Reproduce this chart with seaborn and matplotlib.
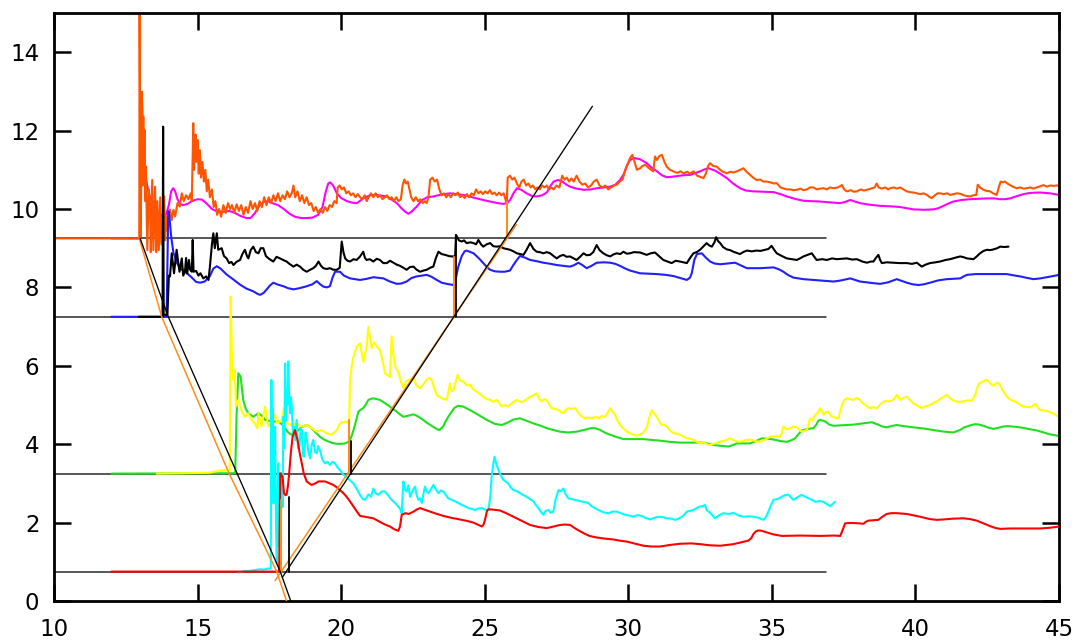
import numpy as np
import matplotlib
matplotlib.use("Agg")
import matplotlib.pyplot as plt
import seaborn as sns

# ---- measured traces: (x, y) pairs ----
orange_pts = [
    (9.8, 9.25), (12.97, 9.25), (12.98, 15.5), (13.02, 9.3), (13.065, 12.99), (13.09, 10.6), (13.11, 12.36),
    (13.13, 10.9), (13.15, 12.02), (13.18, 10.2), (13.2, 11.08), (13.25, 8.95), (13.3, 10.5), (13.34, 10.23),
    (13.37, 8.9), (13.42, 10.74), (13.46, 8.95), (13.52, 10.57), (13.56, 8.9), (13.6, 10.2), (13.65, 8.95),
    (13.7, 10.3), (13.74, 9.1), (13.78, 9.6), (13.84, 10.32), (13.87, 9.2), (13.9, 9.81), (13.94, 9.45),
    (13.98, 9.81), (14.04, 9.98), (14.1, 9.72), (14.16, 9.98), (14.22, 9.81), (14.3, 10.15), (14.38, 10.06),
    (14.45, 10.4), (14.52, 10.2), (14.6, 10.35), (14.68, 10.25), (14.76, 10.4), (14.8, 10.2), (14.85, 12.19),
    (14.88, 11.0), (14.93, 11.9), (14.96, 11.2), (15.0, 11.76), (15.04, 10.9), (15.08, 11.5), (15.12, 10.8),
    (15.17, 11.2), (15.22, 10.7), (15.27, 11.0), (15.32, 10.45), (15.37, 10.75), (15.43, 10.3), (15.5, 10.5),
    (15.56, 10.05), (15.62, 10.2), (15.68, 9.85), (15.75, 10.0), (15.82, 9.8), (15.9, 10.1), (15.98, 9.9),
    (16.06, 10.15), (16.13, 10.0), (16.2, 10.1), (16.28, 9.9), (16.36, 10.12), (16.44, 9.95), (16.52, 10.1),
    (16.6, 9.85), (16.68, 10.05), (16.76, 9.9), (16.84, 10.2), (16.92, 10.0), (17.0, 10.15), (17.08, 9.95),
    (17.16, 10.2), (17.24, 10.05), (17.32, 10.3), (17.4, 10.1), (17.48, 10.3), (17.56, 10.15), (17.64, 10.35),
    (17.72, 10.2), (17.8, 10.4), (17.88, 10.2), (17.96, 10.35), (18.04, 10.25), (18.12, 10.45), (18.2, 10.3),
    (18.28, 10.4), (18.34, 10.6), (18.4, 10.3), (18.48, 10.45), (18.56, 10.2), (18.64, 10.35), (18.72, 10.15),
    (18.8, 10.3), (18.88, 10.1), (18.96, 10.15), (19.04, 9.95), (19.12, 10.05), (19.2, 9.9), (19.28, 10.0),
    (19.36, 9.9), (19.44, 10.05), (19.52, 9.95), (19.6, 10.1), (19.68, 10.05), (19.76, 10.2), (19.84, 10.15),
    (19.88, 10.55), (19.95, 10.6), (20.02, 10.5), (20.1, 10.55), (20.18, 10.4), (20.26, 10.45), (20.34, 10.35),
    (20.42, 10.4), (20.5, 10.3), (20.58, 10.38), (20.66, 10.3), (20.74, 10.25), (20.82, 10.35), (20.89, 10.2),
    (20.96, 10.3), (21.04, 10.4), (21.12, 10.3), (21.2, 10.4), (21.28, 10.3), (21.36, 10.35), (21.44, 10.25),
    (21.52, 10.3), (21.6, 10.35), (21.68, 10.25), (21.76, 10.3), (21.84, 10.2), (21.92, 10.3), (22.0, 10.2),
    (22.08, 10.25), (22.14, 10.6), (22.2, 10.75), (22.26, 10.65), (22.32, 10.7), (22.38, 10.5), (22.44, 10.3),
    (22.52, 10.2), (22.6, 10.3), (22.68, 10.2), (22.76, 10.25), (22.84, 10.15), (22.92, 10.2), (22.98, 10.15),
    (23.04, 10.3), (23.1, 10.75), (23.18, 10.8), (23.26, 10.7), (23.34, 10.75), (23.42, 10.5), (23.5, 10.35),
    (23.58, 10.4), (23.66, 10.3), (23.74, 10.38), (23.82, 10.3), (23.9, 10.4), (23.98, 10.35), (24.06, 10.42),
    (24.14, 10.3), (24.22, 10.35), (24.3, 10.28), (24.38, 10.38), (24.46, 10.3), (24.54, 10.4), (24.62, 10.35),
    (24.7, 10.5), (24.78, 10.4), (24.86, 10.45), (24.94, 10.38), (25.02, 10.45), (25.1, 10.4), (25.18, 10.48),
    (25.26, 10.38), (25.34, 10.42), (25.42, 10.35), (25.5, 10.42), (25.58, 10.35), (25.66, 10.4), (25.74, 10.2),
    (25.77, 10.19), (25.8, 10.8), (25.88, 10.85), (25.96, 10.75), (26.04, 10.8), (26.12, 10.65), (26.2, 10.55),
    (26.28, 10.7), (26.36, 10.75), (26.44, 10.6), (26.52, 10.65), (26.6, 10.55), (26.68, 10.6), (26.76, 10.5),
    (26.84, 10.55), (26.92, 10.5), (27.0, 10.6), (27.08, 10.55), (27.16, 10.6), (27.24, 10.5), (27.32, 10.55),
    (27.4, 10.5), (27.5, 10.6), (27.6, 10.55), (27.7, 10.85), (27.78, 10.75), (27.86, 10.8), (27.94, 10.7),
    (28.02, 10.78), (28.1, 10.7), (28.2, 10.85), (28.3, 10.7), (28.4, 10.62), (28.5, 10.65), (28.6, 10.55),
    (28.7, 10.6), (28.8, 10.7), (28.9, 10.75), (29.0, 10.6), (29.1, 10.55), (29.2, 10.6), (29.3, 10.5),
    (29.4, 10.55), (29.5, 10.6), (29.6, 10.62), (29.7, 10.7), (29.8, 10.75), (29.9, 11.0), (29.98, 11.15),
    (30.06, 11.3), (30.14, 11.38), (30.22, 11.2), (30.3, 11.0), (30.41, 11.04), (30.5, 11.1), (30.6, 11.13),
    (30.7, 11.05), (30.8, 11.0), (30.87, 10.96), (30.93, 11.34), (31.0, 11.25), (31.08, 11.35), (31.17, 11.38),
    (31.26, 11.2), (31.34, 11.08), (31.45, 11.0), (31.57, 10.96), (31.7, 10.92), (31.82, 10.96), (31.92, 10.91),
    (32.05, 10.95), (32.15, 10.9), (32.27, 10.96), (32.4, 10.85), (32.5, 10.82), (32.62, 10.79), (32.7, 10.9),
    (32.78, 11.1), (32.85, 11.17), (32.95, 11.1), (33.08, 11.08), (33.2, 11.0), (33.3, 10.95), (33.43, 10.91),
    (33.55, 10.95), (33.66, 10.93), (33.78, 10.96), (33.9, 11.0), (34.01, 11.04), (34.12, 10.95), (34.24, 10.87),
    (34.35, 10.8), (34.47, 10.74), (34.6, 10.75), (34.7, 10.7), (34.82, 10.7), (34.95, 10.68), (35.06, 10.65),
    (35.17, 10.66), (35.3, 10.55), (35.42, 10.52), (35.52, 10.5), (35.65, 10.5), (35.75, 10.48), (35.87, 10.49),
    (36.0, 10.52), (36.1, 10.48), (36.22, 10.5), (36.33, 10.55), (36.45, 10.55), (36.57, 10.5), (36.68, 10.52),
    (36.8, 10.53), (36.92, 10.5), (37.03, 10.55), (37.15, 10.53), (37.3, 10.55), (37.44, 10.61), (37.52, 10.5),
    (37.61, 10.45), (37.75, 10.48), (37.85, 10.44), (37.96, 10.45), (38.1, 10.5), (38.2, 10.47), (38.31, 10.49),
    (38.45, 10.52), (38.58, 10.55), (38.65, 10.65), (38.72, 10.55), (38.82, 10.52), (38.95, 10.55), (39.05, 10.5),
    (39.12, 10.53), (39.25, 10.55), (39.35, 10.52), (39.47, 10.55), (39.58, 10.5), (39.7, 10.45), (39.82, 10.43),
    (39.93, 10.42), (40.05, 10.4), (40.17, 10.38), (40.28, 10.4), (40.4, 10.36), (40.5, 10.3), (40.57, 10.28),
    (40.68, 10.35), (40.77, 10.4), (40.86, 10.4), (40.98, 10.38), (41.1, 10.4), (41.21, 10.36), (41.33, 10.38),
    (41.45, 10.4), (41.56, 10.39), (41.68, 10.35), (41.8, 10.33), (41.9, 10.32), (42.02, 10.35), (42.12, 10.36),
    (42.17, 10.62), (42.25, 10.55), (42.37, 10.49), (42.48, 10.46), (42.6, 10.45), (42.7, 10.4), (42.83, 10.36),
    (42.9, 10.55), (42.97, 10.7), (43.05, 10.68), (43.12, 10.7), (43.2, 10.65), (43.3, 10.61), (43.42, 10.56),
    (43.53, 10.53), (43.65, 10.55), (43.76, 10.52), (43.88, 10.53), (44.0, 10.55), (44.11, 10.52), (44.23, 10.55),
    (44.35, 10.58), (44.46, 10.61), (44.58, 10.57), (44.7, 10.6), (44.81, 10.59), (44.92, 10.6), (45.0, 10.59),
]

magenta_pts = [
    (12.0, 9.25), (13.0, 9.25), (13.03, 11.5), (13.06, 12.9), (13.1, 11.9), (13.15, 11.1), (13.22, 10.7),
    (13.3, 10.4), (13.4, 10.15), (13.5, 10.0), (13.6, 9.95), (13.7, 9.85), (13.8, 9.82), (13.9, 9.85),
    (14.0, 10.1), (14.08, 10.45), (14.15, 10.53), (14.22, 10.45), (14.3, 10.25), (14.4, 10.12), (14.5, 10.1),
    (14.65, 10.13), (14.8, 10.2), (15.0, 10.25), (15.15, 10.24), (15.3, 10.15), (15.5, 10.0), (15.7, 9.93),
    (15.9, 9.93), (16.1, 9.95), (16.3, 9.9), (16.5, 9.82), (16.7, 9.77), (16.85, 9.77), (17.0, 9.9),
    (17.15, 10.08), (17.3, 10.18), (17.45, 10.2), (17.6, 10.15), (17.8, 10.1), (18.0, 10.0), (18.2, 9.88),
    (18.4, 9.8), (18.6, 9.77), (18.8, 9.77), (19.0, 9.78), (19.2, 9.85), (19.35, 10.05), (19.45, 10.4),
    (19.55, 10.65), (19.62, 10.68), (19.72, 10.6), (19.85, 10.4), (20.0, 10.28), (20.2, 10.2), (20.4, 10.16),
    (20.55, 10.15), (20.77, 10.27), (21.0, 10.35), (21.2, 10.36), (21.4, 10.34), (21.59, 10.32), (21.8, 10.22),
    (21.94, 10.15), (22.1, 10.02), (22.25, 9.92), (22.34, 9.88), (22.45, 9.93), (22.63, 10.06), (22.8, 10.22),
    (23.0, 10.3), (23.21, 10.32), (23.5, 10.37), (23.79, 10.4), (24.0, 10.38), (24.26, 10.36), (24.5, 10.31),
    (24.72, 10.27), (25.0, 10.22), (25.19, 10.19), (25.45, 10.15), (25.65, 10.13), (25.8, 10.16), (25.9, 10.25),
    (26.0, 10.4), (26.12, 10.53), (26.25, 10.5), (26.46, 10.4), (26.65, 10.33), (26.81, 10.32), (27.0, 10.35),
    (27.16, 10.42), (27.3, 10.6), (27.4, 10.7), (27.55, 10.74), (27.7, 10.7), (27.85, 10.62), (27.97, 10.57),
    (28.2, 10.52), (28.44, 10.49), (28.7, 10.5), (28.9, 10.53), (29.15, 10.55), (29.37, 10.57), (29.55, 10.62),
    (29.71, 10.74), (29.85, 10.9), (29.95, 11.1), (30.06, 11.25), (30.2, 11.3), (30.41, 11.27), (30.64, 11.17),
    (30.8, 11.06), (31.0, 10.96), (31.17, 10.86), (31.34, 10.81), (31.5, 10.82), (31.69, 10.84), (31.9, 10.86),
    (32.15, 10.87), (32.35, 10.92), (32.5, 10.96), (32.65, 11.01), (32.79, 11.04), (33.02, 10.98), (33.2, 10.9),
    (33.43, 10.79), (33.65, 10.65), (33.89, 10.53), (34.1, 10.47), (34.36, 10.45), (34.7, 10.44), (35.06, 10.43),
    (35.3, 10.38), (35.52, 10.32), (35.8, 10.26), (36.1, 10.21), (36.4, 10.2), (36.68, 10.19), (37.0, 10.17),
    (37.38, 10.15), (37.55, 10.18), (37.73, 10.23), (37.9, 10.19), (38.07, 10.15), (38.4, 10.11), (38.77, 10.08),
    (39.1, 10.07), (39.47, 10.05), (39.7, 10.02), (39.93, 9.99), (40.3, 9.98), (40.63, 9.99), (40.8, 10.02),
    (40.98, 10.08), (41.15, 10.14), (41.32, 10.19), (41.6, 10.23), (41.9, 10.25), (42.2, 10.26), (42.49, 10.27),
    (42.75, 10.27), (42.95, 10.25), (43.1, 10.25), (43.3, 10.27), (43.5, 10.32), (43.76, 10.38), (44.0, 10.41),
    (44.34, 10.42), (44.69, 10.4), (45.0, 10.36),
]

blue_pts = [
    (12.0, 7.25), (13.92, 7.25), (13.95, 8.6), (13.98, 9.95), (14.02, 9.8), (14.08, 9.3), (14.16, 8.88),
    (14.3, 8.6), (14.45, 8.45), (14.62, 8.37), (14.8, 8.25), (14.95, 8.14), (15.09, 8.12), (15.25, 8.15),
    (15.43, 8.29), (15.55, 8.48), (15.67, 8.54), (15.8, 8.48), (16.01, 8.33), (16.25, 8.2), (16.48, 8.07),
    (16.7, 7.97), (16.94, 7.9), (17.1, 7.83), (17.18, 7.81), (17.3, 7.86), (17.41, 7.95), (17.52, 8.05),
    (17.64, 8.12), (17.8, 8.07), (17.99, 8.03), (18.15, 7.98), (18.34, 7.95), (18.55, 7.98), (18.8, 8.03),
    (19.0, 8.08), (19.15, 8.16), (19.27, 8.08), (19.38, 8.02), (19.5, 8.0), (19.61, 8.03), (19.7, 8.25),
    (19.79, 8.4), (19.96, 8.4), (20.1, 8.3), (20.31, 8.23), (20.66, 8.19), (20.9, 8.22), (21.12, 8.26),
    (21.47, 8.23), (21.7, 8.15), (21.94, 8.09), (22.1, 8.1), (22.28, 8.15), (22.45, 8.24), (22.63, 8.28),
    (22.98, 8.32), (23.15, 8.27), (23.33, 8.19), (23.5, 8.12), (23.68, 8.09), (23.91, 8.06), (24.0, 8.25),
    (24.08, 8.53), (24.2, 8.8), (24.3, 8.92), (24.37, 8.94), (24.61, 8.87), (24.8, 8.74), (24.95, 8.62),
    (25.1, 8.5), (25.19, 8.45), (25.35, 8.41), (25.53, 8.4), (25.7, 8.4), (25.88, 8.43), (25.98, 8.55),
    (26.12, 8.7), (26.23, 8.8), (26.4, 8.76), (26.58, 8.7), (26.8, 8.67), (27.04, 8.63), (27.3, 8.6),
    (27.51, 8.57), (27.75, 8.55), (27.97, 8.53), (28.12, 8.57), (28.26, 8.63), (28.4, 8.57), (28.55, 8.49),
    (28.72, 8.55), (28.9, 8.63), (29.15, 8.64), (29.37, 8.63), (29.55, 8.6), (29.71, 8.55), (29.9, 8.48),
    (30.06, 8.43), (30.41, 8.36), (30.99, 8.34), (31.3, 8.32), (31.57, 8.29), (31.8, 8.24), (32.04, 8.19),
    (32.15, 8.25), (32.21, 8.36), (32.3, 8.7), (32.39, 8.85), (32.56, 8.87), (32.7, 8.76), (32.85, 8.66),
    (33.0, 8.61), (33.2, 8.59), (33.45, 8.61), (33.72, 8.63), (33.95, 8.55), (34.13, 8.49), (34.59, 8.49),
    (35.06, 8.51), (35.25, 8.46), (35.4, 8.4), (35.58, 8.31), (35.75, 8.25), (36.1, 8.21), (36.45, 8.19),
    (37.15, 8.15), (37.35, 8.17), (37.49, 8.19), (37.73, 8.23), (37.9, 8.19), (38.07, 8.15), (38.4, 8.12),
    (38.77, 8.09), (39.05, 8.13), (39.35, 8.21), (39.55, 8.16), (39.7, 8.12), (39.9, 8.08), (40.11, 8.06),
    (40.3, 8.08), (40.51, 8.12), (40.8, 8.18), (41.09, 8.21), (41.56, 8.23), (41.68, 8.28), (41.79, 8.32),
    (42.1, 8.34), (42.49, 8.34), (43.18, 8.34), (43.4, 8.31), (43.65, 8.28), (43.9, 8.24), (44.11, 8.21),
    (44.35, 8.23), (44.58, 8.26), (44.8, 8.29), (45.0, 8.32),
]

black_pts = [
    (12.95, 7.25), (13.78, 7.25), (13.8, 12.1), (13.82, 7.3), (13.95, 7.3), (14.0, 8.3), (14.04, 8.28),
    (14.1, 8.87), (14.18, 8.36), (14.27, 8.96), (14.37, 8.4), (14.45, 8.74), (14.5, 8.3), (14.56, 8.4),
    (14.6, 8.75), (14.64, 8.35), (14.7, 8.7), (14.74, 8.45), (14.8, 8.4), (14.83, 9.21), (14.86, 8.4),
    (14.95, 8.42), (15.03, 8.3), (15.1, 8.36), (15.2, 8.23), (15.3, 8.28), (15.38, 8.19), (15.43, 8.53),
    (15.5, 9.1), (15.55, 9.38), (15.6, 9.0), (15.67, 9.38), (15.72, 8.96), (15.84, 9.0), (15.92, 8.8),
    (16.01, 8.74), (16.1, 8.62), (16.18, 8.65), (16.25, 8.57), (16.35, 8.65), (16.48, 8.7), (16.56, 8.85),
    (16.65, 8.96), (16.72, 8.8), (16.77, 8.74), (16.85, 8.95), (16.94, 9.04), (17.03, 8.9), (17.12, 8.87),
    (17.2, 9.0), (17.29, 9.0), (17.38, 8.8), (17.47, 8.74), (17.55, 8.7), (17.64, 8.66), (17.75, 8.78),
    (17.87, 8.74), (17.98, 8.7), (18.1, 8.66), (18.2, 8.6), (18.34, 8.53), (18.45, 8.58), (18.57, 8.53),
    (18.68, 8.45), (18.8, 8.4), (18.92, 8.45), (19.03, 8.49), (19.12, 8.55), (19.21, 8.66), (19.3, 8.55),
    (19.38, 8.49), (19.5, 8.47), (19.61, 8.49), (19.73, 8.45), (19.85, 8.45), (19.95, 8.5), (20.02, 9.17),
    (20.08, 8.9), (20.14, 8.74), (20.22, 8.68), (20.31, 8.66), (20.43, 8.72), (20.54, 8.7), (20.65, 8.78),
    (20.77, 8.91), (20.83, 8.75), (20.89, 8.7), (21.0, 8.72), (21.12, 8.66), (21.24, 8.73), (21.35, 8.7),
    (21.47, 8.62), (21.59, 8.62), (21.7, 8.68), (21.82, 8.63), (21.94, 8.58), (22.05, 8.55), (22.17, 8.5),
    (22.28, 8.45), (22.4, 8.52), (22.52, 8.53), (22.63, 8.45), (22.75, 8.4), (22.87, 8.43), (22.98, 8.45),
    (23.1, 8.5), (23.21, 8.53), (23.3, 8.75), (23.39, 8.91), (23.5, 8.85), (23.62, 8.83), (23.75, 8.8),
    (23.85, 8.79), (23.97, 8.79), (24.0, 9.34), (24.1, 9.2), (24.2, 9.17), (24.28, 9.2), (24.37, 9.13),
    (24.5, 9.15), (24.61, 9.13), (24.7, 9.1), (24.78, 9.21), (24.87, 9.1), (24.95, 9.04), (25.07, 9.1),
    (25.19, 9.13), (25.3, 9.05), (25.42, 9.04), (25.53, 9.05), (25.65, 9.0), (25.77, 8.98), (25.88, 8.96),
    (26.0, 8.92), (26.12, 8.87), (26.23, 8.85), (26.35, 8.83), (26.45, 8.95), (26.58, 9.13), (26.7, 8.98),
    (26.81, 8.91), (26.92, 8.9), (27.04, 8.87), (27.16, 8.9), (27.28, 8.87), (27.4, 8.8), (27.51, 8.74),
    (27.62, 8.8), (27.74, 8.83), (27.85, 8.78), (27.97, 8.79), (28.1, 8.74), (28.2, 8.7), (28.32, 8.78),
    (28.44, 8.87), (28.55, 8.82), (28.67, 8.83), (28.78, 8.9), (28.9, 9.08), (29.0, 8.95), (29.13, 8.87),
    (29.25, 8.82), (29.37, 8.79), (29.48, 8.84), (29.6, 8.87), (29.72, 8.85), (29.83, 8.91), (29.95, 8.86),
    (30.06, 8.87), (30.2, 8.9), (30.41, 8.89), (30.52, 8.86), (30.64, 8.83), (30.78, 8.87), (30.93, 8.89),
    (31.07, 8.8), (31.22, 8.7), (31.36, 8.66), (31.51, 8.62), (31.65, 8.68), (31.8, 8.66), (31.92, 8.64),
    (32.04, 8.62), (32.15, 8.75), (32.27, 8.87), (32.38, 8.9), (32.5, 8.96), (32.62, 9.05), (32.73, 9.13),
    (32.82, 9.07), (32.91, 9.04), (33.0, 9.15), (33.06, 9.28), (33.13, 9.18), (33.2, 9.13), (33.3, 9.03),
    (33.43, 8.97), (33.55, 8.95), (33.66, 8.91), (33.78, 8.88), (33.89, 8.85), (34.0, 8.9), (34.13, 8.94),
    (34.3, 8.92), (34.47, 8.94), (34.6, 8.93), (34.76, 8.96), (34.88, 8.98), (34.99, 9.06), (35.08, 8.96),
    (35.17, 8.87), (35.35, 8.8), (35.52, 8.74), (35.7, 8.72), (35.87, 8.7), (35.98, 8.74), (36.1, 8.79),
    (36.25, 8.83), (36.39, 8.87), (36.48, 8.78), (36.56, 8.7), (36.75, 8.72), (36.91, 8.7), (37.1, 8.74),
    (37.26, 8.72), (37.45, 8.73), (37.61, 8.74), (37.8, 8.71), (37.96, 8.72), (38.15, 8.66), (38.31, 8.63),
    (38.45, 8.66), (38.54, 8.66), (38.62, 8.75), (38.71, 8.83), (38.77, 8.7), (38.83, 8.62), (39.0, 8.64),
    (39.24, 8.63), (39.45, 8.62), (39.7, 8.62), (39.88, 8.6), (40.05, 8.63), (40.15, 8.57), (40.22, 8.53),
    (40.35, 8.58), (40.51, 8.62), (40.7, 8.64), (40.86, 8.66), (41.05, 8.7), (41.21, 8.72), (41.4, 8.76),
    (41.56, 8.79), (41.68, 8.77), (41.79, 8.74), (41.9, 8.73), (42.02, 8.72), (42.12, 8.78), (42.25, 8.87),
    (42.37, 8.93), (42.49, 8.96), (42.6, 8.95), (42.72, 8.97), (42.85, 9.0), (42.95, 9.04), (43.1, 9.03),
    (43.24, 9.04),
]

yellow_pts = [
    (13.58, 3.25), (15.4, 3.27), (15.6, 3.3), (15.8, 3.33), (16.0, 3.34), (16.12, 3.34), (16.15, 7.77),
    (16.2, 6.15), (16.25, 5.64), (16.29, 5.9), (16.34, 4.96), (16.42, 5.13), (16.54, 4.83), (16.65, 4.7),
    (16.77, 4.79), (16.88, 4.62), (17.0, 4.53), (17.08, 4.4), (17.12, 4.79), (17.23, 4.45), (17.35, 4.96),
    (17.46, 4.45), (17.58, 4.62), (17.7, 4.75), (17.78, 4.53), (17.93, 4.62), (18.01, 4.92), (18.13, 4.53),
    (18.28, 4.49), (18.45, 4.53), (18.63, 4.45), (18.8, 4.49), (18.97, 4.41), (19.15, 4.32), (19.32, 4.36),
    (19.5, 4.28), (19.67, 4.24), (19.85, 4.36), (19.96, 4.53), (20.14, 4.58), (20.28, 4.55), (20.31, 5.64),
    (20.37, 6.0), (20.43, 6.23), (20.54, 6.49), (20.66, 6.57), (20.77, 6.1), (20.89, 6.49), (20.95, 7.0),
    (21.06, 6.45), (21.15, 6.6), (21.24, 6.49), (21.35, 6.41), (21.45, 6.1), (21.53, 5.81), (21.7, 5.72),
    (21.76, 6.75), (21.82, 6.3), (21.88, 5.98), (21.99, 5.85), (22.08, 5.6), (22.17, 5.43), (22.26, 5.6),
    (22.34, 5.64), (22.52, 5.68), (22.62, 5.5), (22.75, 5.43), (22.88, 5.55), (22.98, 5.64), (23.06, 5.7),
    (23.15, 5.64), (23.25, 5.4), (23.33, 5.26), (23.5, 5.17), (23.68, 5.13), (23.79, 5.55), (23.85, 5.35),
    (23.91, 5.38), (24.06, 5.77), (24.15, 5.62), (24.26, 5.6), (24.38, 5.5), (24.49, 5.51), (24.6, 5.4),
    (24.72, 5.34), (24.84, 5.28), (24.95, 5.21), (25.07, 5.15), (25.19, 5.13), (25.3, 5.08), (25.42, 5.13),
    (25.59, 4.96), (25.7, 5.0), (25.82, 4.96), (25.95, 5.05), (26.11, 5.13), (26.23, 5.08), (26.35, 5.09),
    (26.46, 5.15), (26.58, 5.21), (26.7, 5.25), (26.81, 5.3), (26.9, 5.15), (26.99, 5.09), (27.08, 5.15),
    (27.16, 5.13), (27.25, 5.0), (27.33, 4.92), (27.45, 4.9), (27.57, 4.87), (27.65, 4.82), (27.74, 4.79),
    (27.83, 4.88), (27.91, 4.92), (28.03, 4.9), (28.15, 4.92), (28.24, 4.82), (28.32, 4.75), (28.4, 4.7),
    (28.49, 4.66), (28.6, 4.68), (28.73, 4.66), (28.85, 4.7), (28.96, 4.66), (29.08, 4.72), (29.19, 4.7),
    (29.28, 4.8), (29.37, 4.92), (29.45, 4.82), (29.54, 4.75), (29.62, 4.6), (29.71, 4.49), (29.83, 4.4),
    (29.95, 4.32), (30.06, 4.28), (30.18, 4.24), (30.3, 4.22), (30.41, 4.24), (30.52, 4.3), (30.64, 4.41),
    (30.72, 4.65), (30.82, 4.87), (30.9, 4.78), (30.99, 4.7), (31.08, 4.58), (31.17, 4.49), (31.25, 4.5),
    (31.34, 4.45), (31.45, 4.35), (31.57, 4.28), (31.68, 4.27), (31.8, 4.24), (31.92, 4.2), (32.04, 4.15),
    (32.15, 4.14), (32.27, 4.11), (32.38, 4.06), (32.5, 4.02), (32.62, 4.05), (32.73, 4.0), (32.85, 3.98),
    (33.02, 4.02), (33.2, 4.06), (33.38, 4.1), (33.55, 4.15), (33.72, 4.08), (33.89, 4.06), (34.06, 4.1),
    (34.24, 4.12), (34.42, 4.08), (34.59, 4.06), (34.77, 4.12), (34.94, 4.19), (35.12, 4.2), (35.29, 4.19),
    (35.35, 4.3), (35.4, 4.45), (35.52, 4.38), (35.64, 4.41), (35.75, 4.45), (35.87, 4.43), (36.04, 4.32),
    (36.22, 4.36), (36.33, 4.66), (36.42, 4.6), (36.51, 4.75), (36.6, 4.8), (36.68, 4.92), (36.8, 4.75),
    (36.88, 4.82), (36.97, 4.83), (37.06, 4.72), (37.15, 4.69), (37.32, 4.66), (37.44, 5.0), (37.52, 5.12),
    (37.61, 5.17), (37.72, 5.15), (37.84, 5.13), (37.95, 5.18), (38.07, 5.13), (38.16, 5.05), (38.25, 5.0),
    (38.34, 4.95), (38.42, 4.92), (38.54, 4.95), (38.66, 4.92), (38.78, 5.02), (38.89, 5.09), (39.0, 5.1),
    (39.12, 5.09), (39.25, 5.15), (39.35, 5.26), (39.47, 5.13), (39.58, 5.18), (39.7, 5.21), (39.82, 5.12),
    (39.93, 5.04), (40.08, 4.98), (40.22, 4.92), (40.36, 4.97), (40.51, 5.0), (40.62, 5.05), (40.74, 5.09),
    (40.92, 5.18), (41.09, 5.26), (41.2, 5.18), (41.32, 5.11), (41.5, 5.08), (41.67, 5.09), (41.82, 5.12),
    (41.96, 5.11), (42.08, 5.26), (42.2, 5.54), (42.35, 5.6), (42.49, 5.64), (42.6, 5.55), (42.72, 5.49),
    (42.8, 5.55), (42.89, 5.57), (42.98, 5.45), (43.07, 5.34), (43.15, 5.25), (43.24, 5.17), (43.35, 5.12),
    (43.47, 5.09), (43.62, 5.02), (43.76, 4.96), (43.88, 4.95), (43.99, 4.94), (44.08, 4.98), (44.17, 5.03),
    (44.25, 4.95), (44.34, 4.87), (44.5, 4.86), (44.63, 4.83), (44.75, 4.8), (44.87, 4.75), (45.0, 4.69),
]

green_pts = [
    (12.0, 3.25), (16.31, 3.26), (16.36, 4.79), (16.42, 5.81), (16.5, 5.72), (16.59, 5.13), (16.68, 4.9),
    (16.77, 4.79), (16.94, 4.7), (17.12, 4.79), (17.25, 4.72), (17.35, 4.62), (17.58, 4.58), (17.81, 4.58),
    (17.95, 4.5), (18.05, 4.41), (18.15, 4.3), (18.28, 4.24), (18.4, 4.28), (18.51, 4.36), (18.65, 4.45),
    (18.8, 4.49), (18.9, 4.45), (19.03, 4.36), (19.15, 4.27), (19.26, 4.19), (19.4, 4.12), (19.55, 4.07),
    (19.7, 4.03), (19.85, 4.01), (20.0, 4.01), (20.14, 4.02), (20.25, 4.06), (20.31, 4.11), (20.37, 4.22),
    (20.43, 4.36), (20.52, 4.6), (20.6, 4.83), (20.68, 4.88), (20.77, 4.92), (20.85, 5.0), (20.95, 5.13),
    (21.05, 5.16), (21.12, 5.17), (21.25, 5.15), (21.35, 5.13), (21.5, 5.06), (21.7, 4.96), (21.9, 4.85),
    (22.05, 4.76), (22.17, 4.7), (22.35, 4.73), (22.5, 4.76), (22.6, 4.74), (22.8, 4.65), (22.98, 4.55),
    (23.15, 4.47), (23.3, 4.4), (23.42, 4.36), (23.55, 4.45), (23.65, 4.6), (23.73, 4.7), (23.85, 4.83),
    (23.95, 4.93), (24.08, 4.98), (24.25, 4.96), (24.49, 4.87), (24.75, 4.76), (25.07, 4.62), (25.35, 4.52),
    (25.59, 4.49), (25.8, 4.55), (26.0, 4.63), (26.23, 4.66), (26.45, 4.6), (26.7, 4.53), (26.95, 4.47),
    (27.16, 4.41), (27.4, 4.36), (27.62, 4.32), (27.9, 4.3), (28.2, 4.32), (28.5, 4.37), (28.7, 4.41),
    (28.84, 4.41), (29.0, 4.37), (29.2, 4.29), (29.37, 4.24), (29.6, 4.18), (29.83, 4.13), (30.2, 4.13),
    (30.53, 4.13), (30.8, 4.11), (31.11, 4.09), (31.45, 4.06), (31.8, 4.04), (32.2, 4.04), (32.62, 4.04),
    (32.97, 3.98), (33.2, 3.96), (33.49, 3.94), (33.65, 3.98), (33.78, 4.02), (34.0, 4.02), (34.24, 4.02),
    (34.45, 4.08), (34.65, 4.15), (34.85, 4.14), (35.06, 4.12), (35.3, 4.08), (35.52, 4.06), (35.68, 4.1),
    (35.81, 4.15), (35.92, 4.25), (36.04, 4.35), (36.25, 4.39), (36.45, 4.41), (36.55, 4.5), (36.62, 4.6),
    (36.68, 4.62), (36.78, 4.6), (36.86, 4.58), (37.0, 4.5), (37.15, 4.47), (37.4, 4.48), (37.61, 4.49),
    (37.85, 4.5), (38.07, 4.52), (38.3, 4.54), (38.48, 4.56), (38.7, 4.5), (38.85, 4.45), (39.0, 4.43),
    (39.15, 4.46), (39.35, 4.49), (39.6, 4.46), (39.93, 4.43), (40.3, 4.4), (40.63, 4.36), (41.0, 4.32),
    (41.32, 4.3), (41.55, 4.36), (41.7, 4.43), (41.79, 4.45), (41.95, 4.49), (42.08, 4.51), (42.22, 4.5),
    (42.37, 4.47), (42.55, 4.42), (42.72, 4.39), (42.9, 4.42), (43.05, 4.45), (43.18, 4.46), (43.4, 4.45),
    (43.65, 4.43), (43.95, 4.39), (44.23, 4.35), (44.5, 4.29), (44.69, 4.25), (44.85, 4.23), (45.0, 4.21),
]

cyan_pts = [
    (16.42, 0.72), (16.6, 0.76), (16.83, 0.77), (17.0, 0.79), (17.17, 0.81), (17.3, 0.8), (17.46, 0.83),
    (17.55, 0.83), (17.57, 5.64), (17.6, 2.6), (17.62, 4.9), (17.64, 2.49), (17.67, 3.8), (17.7, 4.45),
    (17.73, 2.0), (17.76, 0.96), (17.79, 2.5), (17.81, 3.51), (17.84, 1.4), (17.87, 2.49), (17.9, 1.9),
    (17.93, 3.26), (17.96, 2.4), (17.99, 4.7), (18.02, 3.9), (18.05, 6.06), (18.08, 4.6), (18.1, 5.38),
    (18.13, 5.0), (18.16, 6.11), (18.19, 5.2), (18.22, 4.79), (18.25, 5.2), (18.28, 4.96), (18.32, 4.3),
    (18.36, 4.45), (18.4, 4.1), (18.45, 4.62), (18.5, 3.9), (18.55, 3.94), (18.59, 4.4), (18.63, 4.36),
    (18.67, 3.7), (18.71, 3.68), (18.76, 4.3), (18.8, 4.19), (18.86, 3.8), (18.92, 3.64), (18.98, 4.0),
    (19.03, 4.11), (19.09, 3.8), (19.15, 3.77), (19.2, 3.95), (19.26, 3.85), (19.35, 3.6), (19.44, 3.51),
    (19.52, 3.55), (19.61, 3.47), (19.7, 3.55), (19.79, 3.51), (19.88, 3.4), (19.96, 3.34), (20.08, 3.22),
    (20.19, 3.17), (20.3, 3.08), (20.43, 3.0), (20.55, 2.85), (20.66, 2.7), (20.76, 2.6), (20.83, 2.58),
    (20.95, 2.72), (21.04, 2.66), (21.12, 2.87), (21.2, 2.75), (21.3, 2.71), (21.42, 2.8), (21.53, 2.79),
    (21.65, 2.68), (21.76, 2.58), (21.88, 2.5), (21.99, 2.41), (22.05, 2.35), (22.11, 2.24), (22.14, 2.7),
    (22.17, 3.05), (22.22, 2.85), (22.28, 2.79), (22.34, 2.95), (22.4, 2.66), (22.48, 2.8), (22.57, 2.92),
    (22.63, 2.7), (22.69, 2.58), (22.75, 2.62), (22.81, 2.5), (22.87, 2.75), (22.92, 2.92), (22.98, 2.8),
    (23.04, 2.75), (23.12, 2.85), (23.21, 2.96), (23.3, 2.85), (23.39, 2.75), (23.47, 2.82), (23.56, 2.79),
    (23.65, 2.7), (23.73, 2.62), (23.85, 2.58), (23.97, 2.54), (24.08, 2.5), (24.2, 2.45), (24.3, 2.42),
    (24.43, 2.37), (24.55, 2.35), (24.66, 2.32), (24.78, 2.36), (24.9, 2.37), (25.01, 2.33), (25.13, 2.32),
    (25.2, 2.7), (25.24, 3.17), (25.3, 3.5), (25.34, 3.68), (25.4, 3.5), (25.48, 3.34), (25.56, 3.2),
    (25.65, 3.09), (25.73, 3.05), (25.82, 3.0), (25.9, 2.9), (26.0, 2.83), (26.12, 2.8), (26.23, 2.75),
    (26.35, 2.7), (26.46, 2.66), (26.58, 2.6), (26.7, 2.54), (26.78, 2.45), (26.87, 2.37), (26.95, 2.28),
    (27.04, 2.2), (27.12, 2.3), (27.22, 2.32), (27.3, 2.25), (27.39, 2.28), (27.47, 2.6), (27.57, 2.83),
    (27.65, 2.8), (27.74, 2.87), (27.82, 2.72), (27.91, 2.62), (28.03, 2.6), (28.15, 2.58), (28.26, 2.56),
    (28.38, 2.54), (28.5, 2.52), (28.61, 2.5), (28.72, 2.42), (28.84, 2.37), (28.96, 2.32), (29.08, 2.28),
    (29.2, 2.25), (29.31, 2.24), (29.45, 2.28), (29.6, 2.28), (29.75, 2.24), (29.89, 2.2), (30.03, 2.18),
    (30.18, 2.15), (30.32, 2.19), (30.47, 2.17), (30.6, 2.12), (30.76, 2.08), (30.9, 2.12), (31.05, 2.15),
    (31.2, 2.14), (31.34, 2.11), (31.5, 2.1), (31.63, 2.07), (31.75, 2.1), (31.86, 2.15), (31.95, 2.2),
    (32.04, 2.28), (32.15, 2.3), (32.27, 2.32), (32.4, 2.38), (32.5, 2.41), (32.6, 2.42), (32.67, 2.45),
    (32.73, 2.32), (32.85, 2.25), (33.02, 2.11), (33.15, 2.18), (33.31, 2.24), (33.5, 2.22), (33.66, 2.25),
    (33.85, 2.18), (34.01, 2.15), (34.2, 2.16), (34.36, 2.15), (34.55, 2.12), (34.71, 2.07), (34.8, 2.15),
    (34.88, 2.28), (34.97, 2.45), (35.06, 2.58), (35.2, 2.6), (35.35, 2.66), (35.45, 2.7), (35.58, 2.71),
    (35.67, 2.64), (35.75, 2.58), (35.9, 2.65), (36.04, 2.71), (36.16, 2.66), (36.28, 2.62), (36.4, 2.58),
    (36.51, 2.53), (36.65, 2.55), (36.8, 2.53), (36.92, 2.47), (37.03, 2.42), (37.12, 2.48), (37.2, 2.53),
]

red_pts = [
    (12.0, 0.75), (17.84, 0.75), (17.88, 3.26), (17.93, 3.2), (17.96, 3.17), (18.01, 2.75), (18.06, 2.7),
    (18.1, 2.71), (18.15, 2.95), (18.2, 3.34), (18.25, 3.8), (18.31, 4.19), (18.39, 4.36), (18.48, 4.11),
    (18.55, 3.8), (18.63, 3.51), (18.7, 3.25), (18.8, 3.05), (18.97, 2.96), (19.1, 3.0), (19.21, 3.05),
    (19.44, 3.05), (19.6, 3.0), (19.73, 2.96), (19.85, 2.9), (19.96, 2.83), (20.08, 2.75), (20.19, 2.66),
    (20.3, 2.55), (20.43, 2.41), (20.55, 2.28), (20.66, 2.17), (20.89, 2.14), (21.12, 2.11), (21.35, 2.02),
    (21.5, 1.96), (21.7, 1.9), (21.85, 1.83), (21.99, 1.79), (22.05, 1.9), (22.11, 2.2), (22.23, 2.24),
    (22.35, 2.22), (22.52, 2.28), (22.65, 2.34), (22.75, 2.37), (22.9, 2.33), (23.1, 2.28), (23.3, 2.23),
    (23.56, 2.17), (23.85, 2.12), (24.14, 2.08), (24.4, 2.04), (24.61, 2.0), (24.75, 1.95), (24.9, 1.9),
    (24.96, 1.95), (25.01, 2.07), (25.08, 2.3), (25.13, 2.34), (25.3, 2.33), (25.53, 2.31), (25.75, 2.24),
    (26.0, 2.15), (26.3, 2.04), (26.58, 1.94), (26.85, 1.89), (27.16, 1.86), (27.4, 1.9), (27.62, 1.94),
    (27.8, 1.95), (27.97, 1.94), (28.2, 1.83), (28.44, 1.73), (28.65, 1.66), (28.9, 1.62), (29.2, 1.59),
    (29.48, 1.57), (29.7, 1.54), (29.95, 1.515), (30.25, 1.46), (30.53, 1.41), (30.8, 1.39), (31.11, 1.39),
    (31.45, 1.43), (31.8, 1.46), (32.2, 1.47), (32.5, 1.45), (32.85, 1.42), (33.2, 1.41), (33.66, 1.45),
    (33.95, 1.5), (34.18, 1.54), (34.28, 1.6), (34.36, 1.71), (34.45, 1.78), (34.53, 1.8), (34.65, 1.79),
    (34.82, 1.75), (35.05, 1.7), (35.35, 1.66), (35.98, 1.67), (36.68, 1.66), (37.15, 1.67), (37.38, 1.66),
    (37.46, 1.8), (37.55, 1.98), (37.7, 1.99), (37.84, 1.99), (38.05, 1.98), (38.19, 1.97), (38.27, 2.02),
    (38.36, 2.05), (38.55, 2.06), (38.71, 2.07), (38.85, 2.15), (39.0, 2.22), (39.15, 2.24), (39.35, 2.24),
    (39.7, 2.22), (40.16, 2.15), (40.5, 2.09), (40.74, 2.07), (40.98, 2.08), (41.3, 2.1), (41.67, 2.11),
    (41.9, 2.09), (42.14, 2.05), (42.4, 1.97), (42.6, 1.91), (42.8, 1.86), (42.95, 1.84), (43.3, 1.85),
    (43.65, 1.85), (44.0, 1.85), (44.34, 1.85), (44.7, 1.87), (45.0, 1.9),
]

# ---- level lines and arrival paths ----
levels = [9.25, 7.25, 3.25, 0.75]
level_x = [9.5, 36.9]

orange_down = [(12.97, 9.25), (13.75, 7.25), (16.1, 3.25), (17.76, 0.75), (18.12, -0.05)]
orange_up = [(17.7, 0.52), (26.1, 9.6)]
black_down = [(13.0, 9.25), (13.98, 7.25), (16.38, 3.25), (17.88, 0.75), (18.27, -0.05)]
black_up = [(17.95, 0.6), (28.75, 12.62)]

# vertical markers: (x, level, value)
orange_marks = [(17.91, 0.75, 2.58), (20.28, 3.25, 4.62), (23.93, 7.25, 8.78), (25.77, 9.25, 10.19)]
black_marks = [(18.17, 0.75, 2.66), (20.34, 3.25, 4.07), (24.0, 7.25, 9.3)]

x_ticks = [10, 15, 20, 25, 30, 35, 40, 45]
y_ticks = [0, 2, 4, 6, 8, 10, 12, 14]

# ---- drawing ----
sns.set_theme(style="ticks")
plt.rcParams["font.family"] = ["DejaVu Sans"]

fig = plt.figure(figsize=(10.8, 6.41), dpi=100)
ax = fig.add_axes([54 / 1080, 1 - 601 / 641, (1059 - 54) / 1080, (601 - 13) / 641])


def trace(pts, color, lw=1.5, z=2):
    xs = [p[0] for p in pts]
    ys = [p[1] for p in pts]
    sns.lineplot(x=xs, y=ys, sort=False, estimator=None, color=color, lw=lw, ax=ax, zorder=z)


for lv in levels:
    sns.lineplot(x=level_x, y=[lv, lv], color="#2a2a2a", lw=1.1, ax=ax, zorder=1)

trace(magenta_pts, "#ff00ff", z=2)
trace(orange_pts, "#ff5500", z=2.1)
trace(blue_pts, "#1f1fff", z=2.2)
trace(black_pts, "#000000", z=2.3)
trace(green_pts, "#1fe01f", z=2.4)
trace(yellow_pts, "#ffff00", z=2.5)
trace(cyan_pts, "#00ffff", z=2.6)
trace(red_pts, "#ff0000", z=2.7)

trace(orange_down, "#ff8c1a", lw=1.1, z=3)
trace(orange_up, "#ff8c1a", lw=1.1, z=3)
trace(black_down, "#000000", lw=0.95, z=3.1)
trace(black_up, "#000000", lw=0.95, z=3.1)

for x0, y0, y1 in orange_marks:
    trace([(x0, y0), (x0, y1)], "#ff8c1a", lw=1.5, z=3)
for x0, y0, y1 in black_marks:
    trace([(x0, y0), (x0, y1)], "#000000", lw=1.3, z=3.1)

ax.set_xlim(10, 45)
ax.set_ylim(0, 15)
ax.set_xticks(x_ticks)
ax.set_yticks(y_ticks)
ax.set_xticklabels([str(v) for v in x_ticks])
ax.set_yticklabels([str(v) for v in y_ticks])
ax.tick_params(direction="in", length=12, width=1.8, top=True, right=True,
               labelsize=16.5, colors="#000000")
ax.tick_params(axis="y", pad=10.5)
ax.tick_params(axis="x", pad=12)
for sp in ax.spines.values():
    sp.set_linewidth(2)
    sp.set_color("#000000")
ax.set_xlabel("")
ax.set_ylabel("")
ax.grid(False)

fig.savefig("out.png", dpi=100, facecolor="white")
